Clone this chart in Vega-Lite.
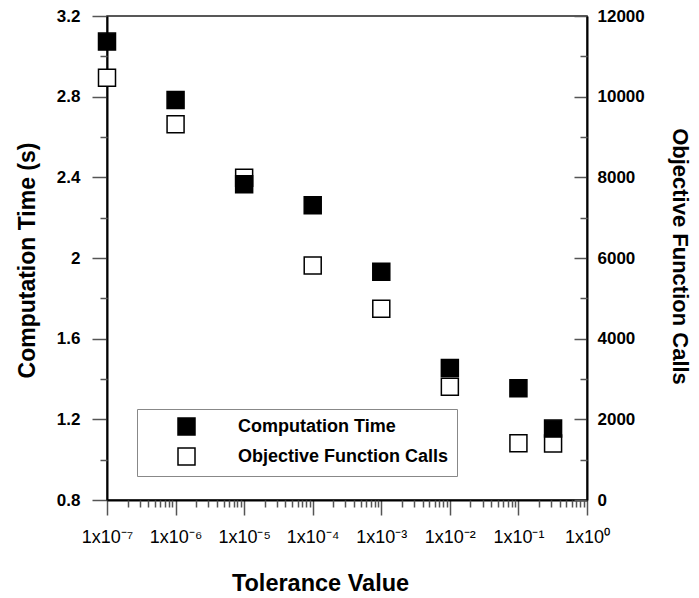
{
  "$schema": "https://vega.github.io/schema/vega-lite/v6.json",
  "width": 480,
  "height": 484,
  "autosize": {"type": "none"},
  "padding": {"left": 107, "top": 16, "right": 112, "bottom": 98},
  "background": "white",
  "config": {
    "font": "Liberation Sans",
    "view": {"stroke": "#222", "strokeWidth": 1.5},
    "axis": {
      "grid": false,
      "domainColor": "black",
      "domainWidth": 2,
      "tickColor": "#555",
      "tickWidth": 1.5,
      "labelColor": "black",
      "titleColor": "black",
      "labelFont": "Liberation Sans",
      "titleFont": "Liberation Sans"
    }
  },
  "data": {
    "values": [
      {"tol": 1e-7, "time": 3.073, "calls": 10470},
      {"tol": 1e-6, "time": 2.783, "calls": 9314},
      {"tol": 1e-5, "time": 2.366, "calls": 7990},
      {"tol": 1e-4, "time": 2.261, "calls": 5813},
      {"tol": 1e-3, "time": 1.932, "calls": 4740},
      {"tol": 1e-2, "time": 1.455, "calls": 2809},
      {"tol": 1e-1, "time": 1.354, "calls": 1405},
      {"tol": 0.32, "time": 1.154, "calls": 1400}
    ]
  },
  "resolve": {
    "scale": {"y": "independent"},
    "axis": {"x": "independent", "y": "independent"}
  },
  "layer": [
    {
      "mark": {"type": "point", "shape": "square", "size": 289, "filled": true, "stroke": "black", "strokeWidth": 1.5, "opacity": 1},
      "encoding": {
        "x": {
          "field": "tol", "type": "quantitative",
          "scale": {"type": "log", "domain": [1e-7, 1], "nice": false},
          "axis": {
            "orient": "bottom",
            "values": [1e-7, 1e-6, 1e-5, 1e-4, 1e-3, 1e-2, 1e-1, 1],
            "tickSize": 15,
            "labelPadding": 13,
            "labelFontSize": 18,
            "labelFlush": false,
            "labelOverlap": false,
            "labelBound": false,
            "labelExpr": "datum.value < 5e-7 ? '1x10⁻⁷' : datum.value < 5e-6 ? '1x10⁻⁶' : datum.value < 5e-5 ? '1x10⁻⁵' : datum.value < 5e-4 ? '1x10⁻⁴' : datum.value < 5e-3 ? '1x10⁻³' : datum.value < 5e-2 ? '1x10⁻²' : datum.value < 0.5 ? '1x10⁻¹' : '1x10⁰'",
            "title": "Tolerance Value",
            "titleFontSize": 23.5,
            "titleFontWeight": "bold",
            "titleX": 213,
            "titleY": 83,
            "titleAlign": "center",
            "titleBaseline": "middle"
          }
        },
        "y": {
          "field": "calls", "type": "quantitative",
          "scale": {"domain": [0, 12000], "nice": false, "zero": false},
          "axis": {
            "orient": "right",
            "values": [0, 2000, 4000, 6000, 8000, 10000, 12000],
            "format": "d",
            "tickSize": -13,
            "labelPadding": 23,
            "labelFontSize": 17,
            "labelFontWeight": "bold",
            "labelFlush": false,
            "labelOverlap": false,
            "title": "Objective Function Calls",
            "titleFontSize": 22,
            "titleFontWeight": "bold",
            "titleAngle": 90,
            "titleX": 92,
            "titleY": 240,
            "titleAlign": "center",
            "titleBaseline": "middle"
          }
        },
        "fill": {
          "datum": "Objective Function Calls", "type": "nominal",
          "scale": {"domain": ["Computation Time", "Objective Function Calls"], "range": ["black", "white"]},
          "legend": {
            "title": null,
            "orient": "none",
            "legendX": 30,
            "legendY": 393,
            "direction": "vertical",
            "fillColor": "white",
            "strokeColor": "#888",
            "padding": 8,
            "symbolOffset": 32,
            "symbolType": "square",
            "symbolSize": 289,
            "symbolStrokeColor": "black",
            "symbolStrokeWidth": 1.5,
            "symbolOpacity": 1,
            "labelFontSize": 18,
            "labelFontWeight": "bold",
            "labelColor": "black",
            "labelOffset": 42,
            "rowPadding": 7,
            "labelLimit": 400
          }
        }
      }
    },
    {
      "mark": {"type": "point", "opacity": 0},
      "encoding": {
        "x": {
          "field": "tol", "type": "quantitative",
          "scale": {"type": "log", "domain": [1e-7, 1], "nice": false},
          "axis": {
            "orient": "bottom",
            "values": [2e-7, 3e-7, 4e-7, 5e-7, 6e-7, 7e-7, 8e-7, 9e-7,
                       2e-6, 3e-6, 4e-6, 5e-6, 6e-6, 7e-6, 8e-6, 9e-6,
                       2e-5, 3e-5, 4e-5, 5e-5, 6e-5, 7e-5, 8e-5, 9e-5,
                       2e-4, 3e-4, 4e-4, 5e-4, 6e-4, 7e-4, 8e-4, 9e-4,
                       2e-3, 3e-3, 4e-3, 5e-3, 6e-3, 7e-3, 8e-3, 9e-3,
                       2e-2, 3e-2, 4e-2, 5e-2, 6e-2, 7e-2, 8e-2, 9e-2,
                       0.2, 0.3, 0.4, 0.5, 0.6, 0.7, 0.8, 0.9],
            "tickSize": 7,
            "labels": false,
            "domain": false,
            "title": null
          }
        },
        "y": {
          "field": "calls", "type": "quantitative",
          "scale": {"domain": [0, 12000], "nice": false, "zero": false},
          "axis": {
            "orient": "right",
            "values": [1000, 3000, 5000, 7000, 9000, 11000],
            "tickSize": -7,
            "labels": false,
            "domain": false,
            "title": null
          }
        }
      }
    },
    {
      "mark": {"type": "point", "shape": "square", "size": 289, "filled": true, "stroke": "black", "strokeWidth": 1.5, "opacity": 1},
      "encoding": {
        "x": {
          "field": "tol", "type": "quantitative",
          "scale": {"type": "log", "domain": [1e-7, 1], "nice": false},
          "axis": null
        },
        "y": {
          "field": "time", "type": "quantitative",
          "scale": {"domain": [0.8, 3.2], "nice": false, "zero": false},
          "axis": {
            "orient": "left",
            "values": [0.8, 1.2, 1.6, 2, 2.4, 2.8, 3.2],
            "format": "~g",
            "tickSize": 15,
            "labelPadding": 12,
            "labelFontSize": 17,
            "labelFontWeight": "bold",
            "labelFlush": false,
            "labelOverlap": false,
            "title": "Computation Time (s)",
            "titleFontSize": 23,
            "titleFontWeight": "bold",
            "titleAngle": -90,
            "titleX": -80,
            "titleY": 244,
            "titleAlign": "center",
            "titleBaseline": "middle"
          }
        },
        "fill": {
          "datum": "Computation Time", "type": "nominal",
          "scale": {"domain": ["Computation Time", "Objective Function Calls"], "range": ["black", "white"]}
        }
      }
    },
    {
      "mark": {"type": "point", "opacity": 0},
      "encoding": {
        "x": {
          "field": "tol", "type": "quantitative",
          "scale": {"type": "log", "domain": [1e-7, 1], "nice": false},
          "axis": null
        },
        "y": {
          "field": "time", "type": "quantitative",
          "scale": {"domain": [0.8, 3.2], "nice": false, "zero": false},
          "axis": {
            "orient": "left",
            "values": [1.0, 1.4, 1.8, 2.2, 2.6, 3.0],
            "tickSize": 7,
            "labels": false,
            "domain": false,
            "title": null
          }
        }
      }
    }
  ]
}
